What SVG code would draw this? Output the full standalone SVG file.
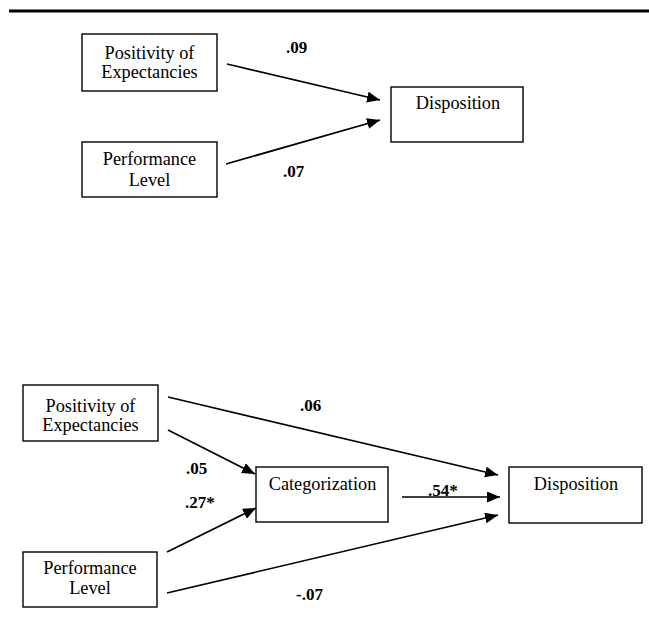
<svg xmlns="http://www.w3.org/2000/svg" width="649" height="622" viewBox="0 0 649 622">
<style>
.box{fill:#fff;stroke:#000;stroke-width:1.4}
.lbl{font-family:"Liberation Serif","Times New Roman",serif;font-size:18.3px;fill:#000;text-anchor:middle}
.coef{font-family:"Liberation Serif","Times New Roman",serif;font-size:17px;font-weight:bold;fill:#000}
.edge{stroke:#000;stroke-width:1.7;fill:none;marker-end:url(#ah)}
</style>
<defs>
<marker id="ah" markerUnits="userSpaceOnUse" markerWidth="14" markerHeight="12" refX="13" refY="5.5" orient="auto">
<path d="M0,0 L13,5.5 L0,11 z" fill="#000"/>
</marker>
</defs>
<rect width="649" height="622" fill="#fff"/>
<line x1="9" y1="11" x2="649" y2="11" stroke="#000" stroke-width="2.8"/>

<g id="connectors">
<line class="edge" x1="227" y1="64" x2="380" y2="100"/>
<line class="edge" x1="226" y1="164" x2="380" y2="120"/>
<line class="edge" x1="168" y1="397" x2="498" y2="475"/>
<line class="edge" x1="168" y1="430" x2="255" y2="474"/>
<line class="edge" x1="167" y1="552" x2="256" y2="508"/>
<line class="edge" x1="167" y1="593" x2="498" y2="515"/>
<line class="edge" x1="402" y1="497" x2="500" y2="497"/>
<text class="coef" x="286" y="53">.09</text>
<text class="coef" x="283" y="177">.07</text>
<text class="coef" x="300" y="411">.06</text>
<text class="coef" x="186" y="474">.05</text>
<text class="coef" x="185" y="508">.27*</text>
<text class="coef" x="296" y="600">-.07</text>
<text class="coef" x="428" y="496">.54*</text>
</g>

<g id="top-positivity">
<rect class="box" x="82" y="34" width="135" height="57"/>
<text class="lbl" x="149.5" y="59">Positivity of</text>
<text class="lbl" x="149.5" y="78">Expectancies</text>
</g>
<g id="top-performance">
<rect class="box" x="82" y="142" width="135" height="55"/>
<text class="lbl" x="149.5" y="165">Performance</text>
<text class="lbl" x="149.5" y="186">Level</text>
</g>
<g id="top-disposition">
<rect class="box" x="391" y="87" width="132" height="55"/>
<text class="lbl" x="458" y="109">Disposition</text>
</g>

<g id="bottom-positivity">
<rect class="box" x="23" y="385" width="135" height="56"/>
<text class="lbl" x="90.5" y="411.5">Positivity of</text>
<text class="lbl" x="90.5" y="431">Expectancies</text>
</g>
<g id="bottom-performance">
<rect class="box" x="23" y="552" width="134" height="55"/>
<text class="lbl" x="90" y="574">Performance</text>
<text class="lbl" x="90" y="594">Level</text>
</g>
<g id="bottom-categorization">
<rect class="box" x="256" y="467" width="132" height="55"/>
<text class="lbl" x="322.5" y="489.5">Categorization</text>
</g>
<g id="bottom-disposition">
<rect class="box" x="509" y="467" width="133" height="56"/>
<text class="lbl" x="576" y="490">Disposition</text>
</g>
</svg>
